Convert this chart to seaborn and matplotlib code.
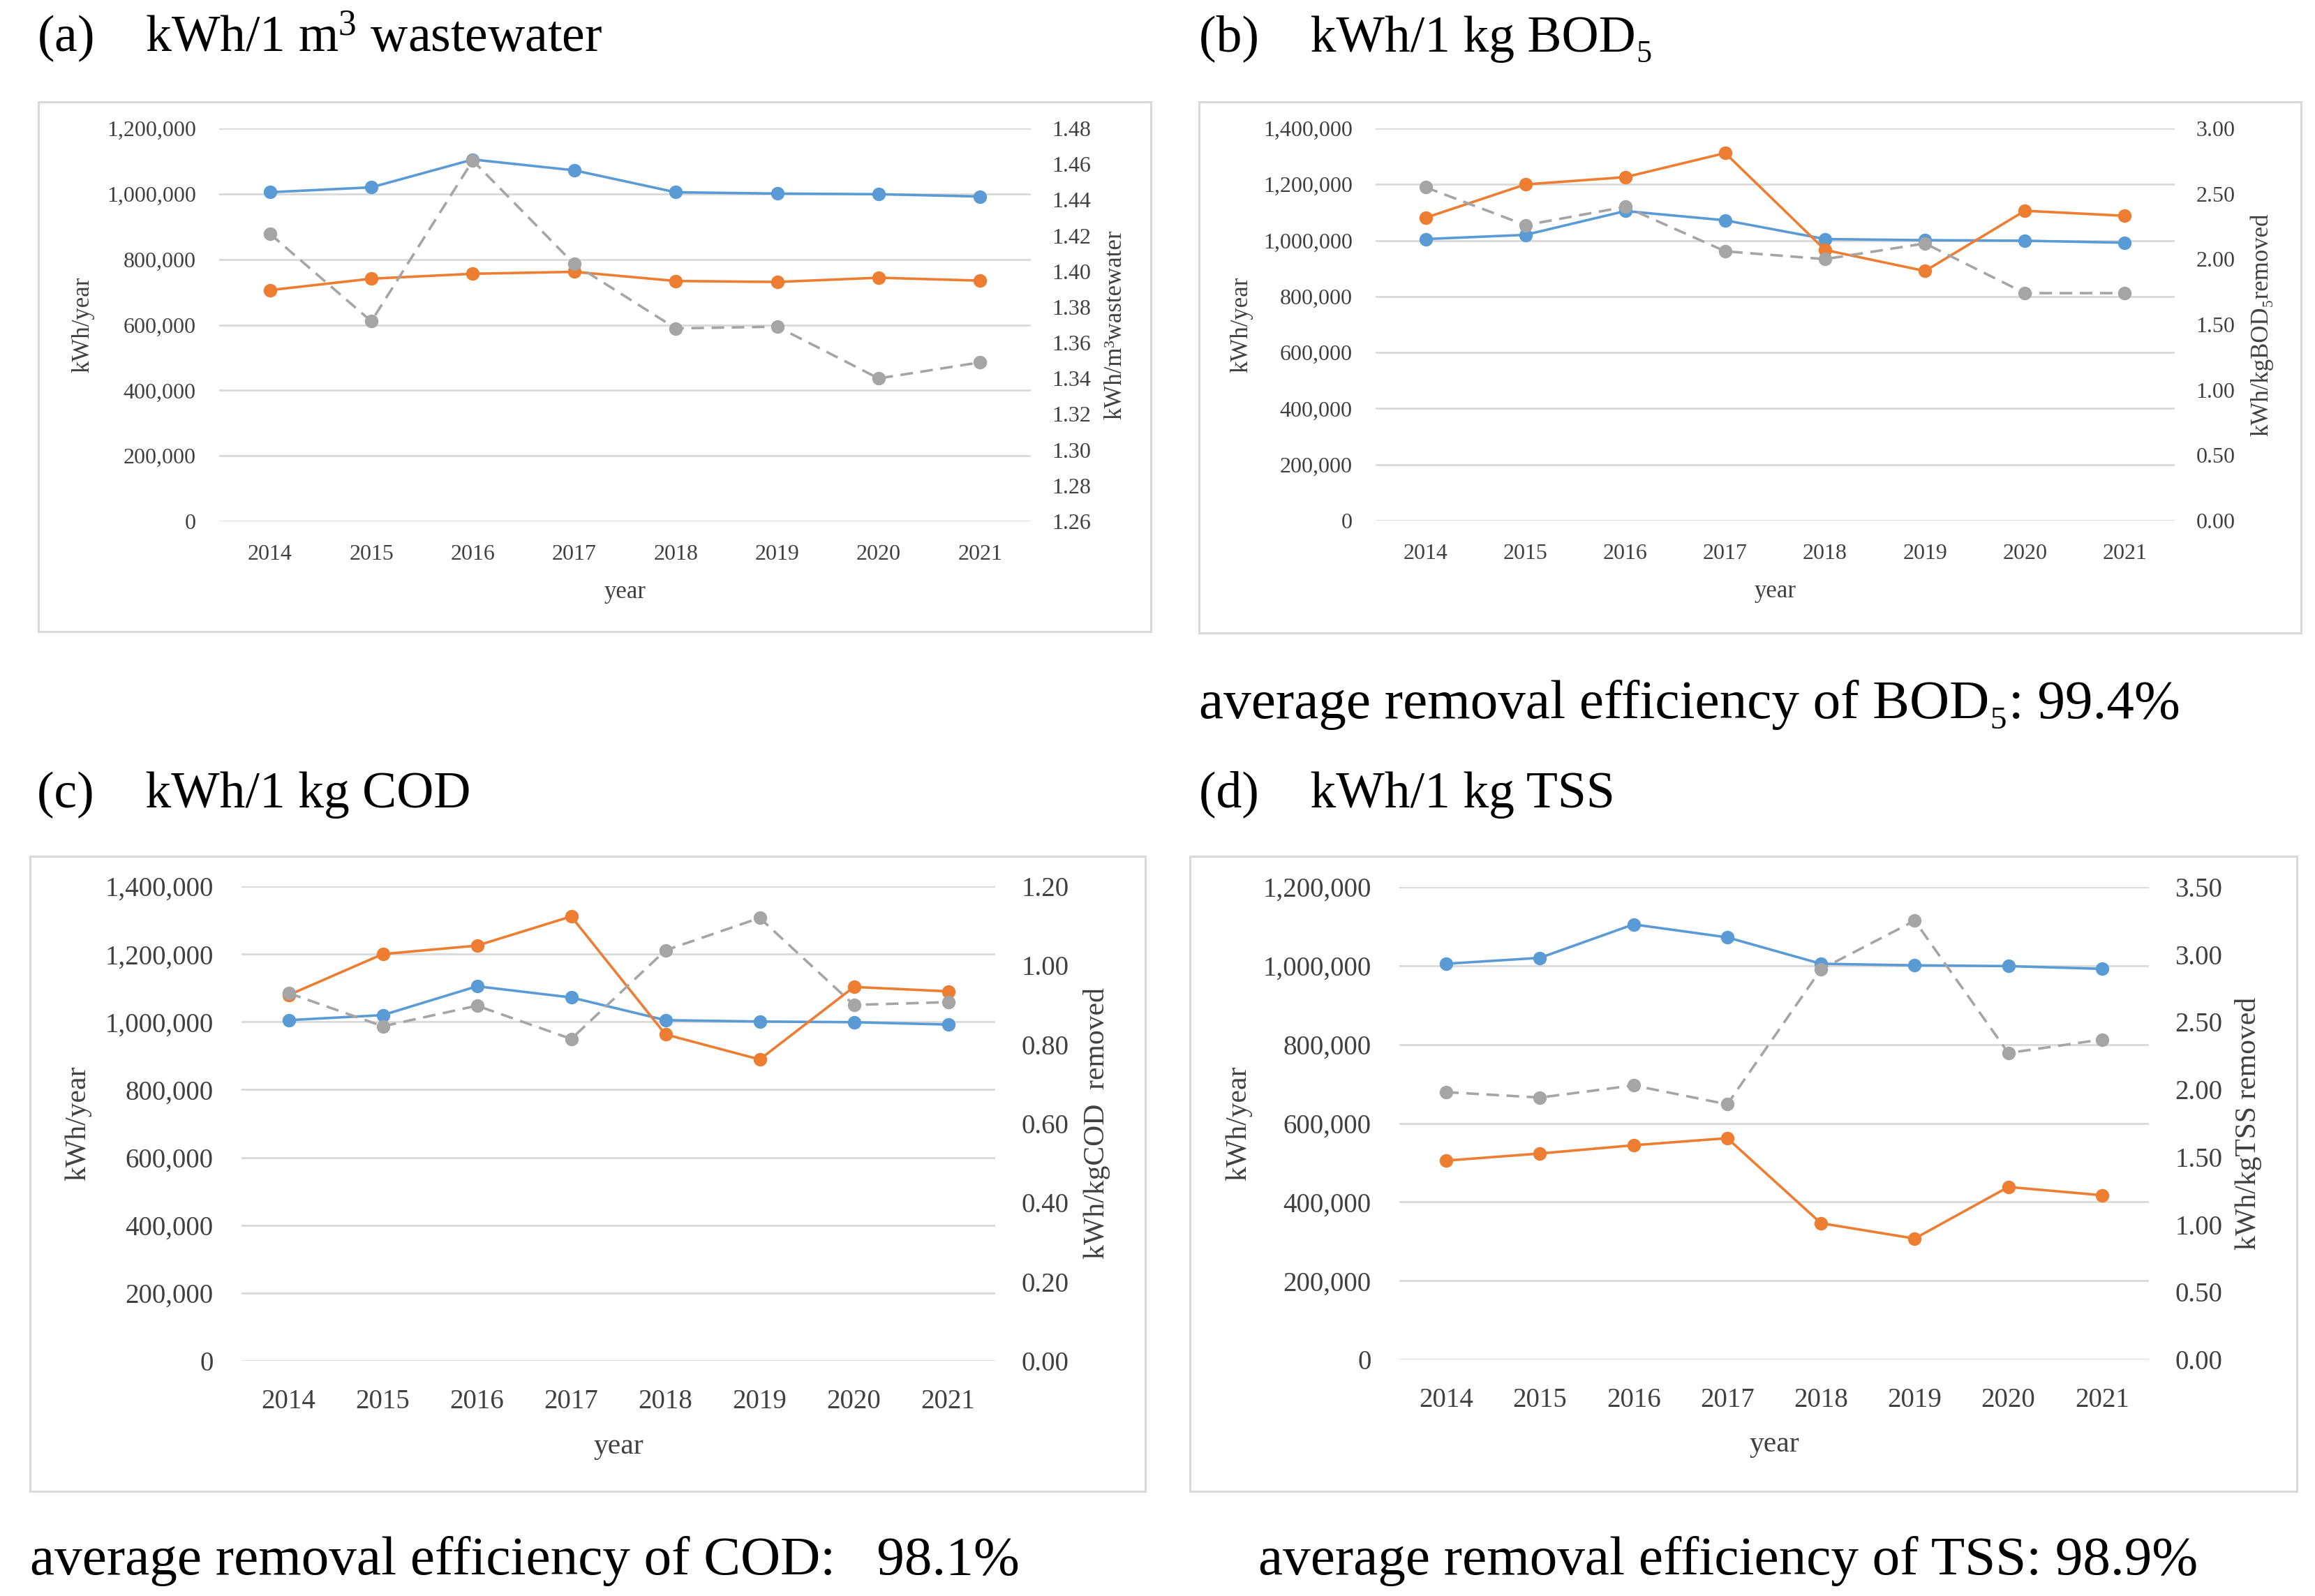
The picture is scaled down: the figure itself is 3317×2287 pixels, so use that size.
"""Energy use of a wastewater plant, 2014-2021, four twin-axis panels"""

import numpy as np
import matplotlib
matplotlib.use("Agg")
import matplotlib.pyplot as plt
from matplotlib.patches import Rectangle
from matplotlib.ticker import FuncFormatter
import seaborn as sns

sns.set_theme(style="white")
plt.rcParams["font.family"] = ["Liberation Serif", "DejaVu Serif"]
plt.rcParams["mathtext.fontset"] = "custom"
plt.rcParams["mathtext.rm"] = "Liberation Serif"
plt.rcParams["mathtext.it"] = "Liberation Serif:italic"

years = [2014, 2015, 2016, 2017, 2018, 2019, 2020, 2021]

# blue line, kWh/year (same in every panel)
energy = [1005000, 1020000, 1105000, 1072000, 1005000, 1001000, 999000, 992000]

# orange lines (left axis)
orange_a = [706000, 741000, 756000, 762000, 734000, 731000, 744000, 735000]
orange_b = [1081000, 1200000, 1226000, 1312000, 966000, 891000, 1106000, 1088000]
orange_c = [1079000, 1200000, 1225000, 1311000, 963000, 889000, 1103000, 1090000]
orange_d = [505000, 523000, 544000, 562000, 346000, 307000, 438000, 417000]

# grey dashed lines (right axis)
ratio_a = [1.421, 1.372, 1.462, 1.404, 1.368, 1.369, 1.340, 1.349]
ratio_b = [2.55, 2.26, 2.40, 2.06, 2.00, 2.12, 1.74, 1.74]
ratio_c = [0.930, 0.846, 0.898, 0.814, 1.038, 1.120, 0.900, 0.907]
ratio_d = [1.98, 1.94, 2.03, 1.89, 2.89, 3.25, 2.27, 2.37]

titles = ["(a)    kWh/1 m$^{3}$ wastewater", "(b)    kWh/1 kg BOD\u2085",
          "(c)    kWh/1 kg COD", "(d)    kWh/1 kg TSS"]
right_labels = ["kWh/m\u00b3wastewater", "kWh/kgBOD\u2085removed",
                "kWh/kgCOD  removed", "kWh/kgTSS removed"]
notes = [None, "average removal efficiency of BOD\u2085: 99.4%",
         "average removal efficiency of COD:   98.1%",
         "average removal efficiency of TSS: 98.9%"]

BLUE = "#5B9BD5"
ORANGE = "#ED7D31"
GREY = "#A5A5A5"
GRID = "#D9D9D9"
TICK = "#404040"

W, H = 3317, 2287
fig = plt.figure(figsize=(W / 100, H / 100), dpi=100)


def px_rect(x0, y0, x1, y1):
    # pixel box (top-left origin) -> figure fraction
    return [x0 / W, 1 - y1 / H, (x1 - x0) / W, (y1 - y0) / H]


panels = [
    dict(ax=(314, 184, 1477, 747), frame=(55, 146, 1649, 905), title=(53, 53),
         note=None, orange=orange_a, ratio=ratio_a,
         ylim=(0, 1200000), yticks=np.arange(0, 1200001, 200000),
         rlim=(1.26, 1.48), rticks=np.arange(1.26, 1.4801, 0.02),
         fs=23, lfs=25, pad=24, lab=(-0.168, 1.104)),
    dict(ax=(1971, 184, 3116, 746), frame=(1718, 146, 3297, 907), title=(1718, 56),
         note=(1718, 1010), orange=orange_b, ratio=ratio_b,
         ylim=(0, 1400000), yticks=np.arange(0, 1400001, 200000),
         rlim=(0, 3.0), rticks=np.arange(0, 3.001, 0.5),
         fs=23, lfs=25, pad=24, lab=(-0.168, 1.109)),
    dict(ax=(346, 1270, 1426, 1950), frame=(43, 1227, 1641, 2137), title=(53, 1139),
         note=(43, 2237), orange=orange_c, ratio=ratio_c,
         ylim=(0, 1400000), yticks=np.arange(0, 1400001, 200000),
         rlim=(0, 1.2), rticks=np.arange(0, 1.2001, 0.2),
         fs=28, lfs=30, pad=29, lab=(-0.217, 1.135)),
    dict(ax=(2005, 1271, 3079, 1948), frame=(1705, 1227, 3291, 2137), title=(1718, 1139),
         note=(1803, 2237), orange=orange_d, ratio=ratio_d,
         ylim=(0, 1200000), yticks=np.arange(0, 1200001, 200000),
         rlim=(0, 3.5), rticks=np.arange(0, 3.501, 0.5),
         fs=28, lfs=30, pad=29, lab=(-0.214, 1.133)),
]

for i, p in enumerate(panels):
    # light frame around each chart
    fx0, fy0, fx1, fy1 = p["frame"]
    fig.patches.append(Rectangle((fx0 / W, 1 - fy1 / H), (fx1 - fx0) / W, (fy1 - fy0) / H,
                                 transform=fig.transFigure, fill=False,
                                 edgecolor=GRID, linewidth=2.2, zorder=0))

    ax = fig.add_axes(px_rect(*p["ax"]))
    ax2 = ax.twinx()

    sns.lineplot(x=years, y=energy, ax=ax, color=BLUE, marker="o", markersize=14,
                 markeredgewidth=0, linewidth=2.6)
    sns.lineplot(x=years, y=p["orange"], ax=ax, color=ORANGE, marker="o", markersize=14,
                 markeredgewidth=0, linewidth=2.6)
    sns.lineplot(x=years, y=p["ratio"], ax=ax2, color=GREY, marker="o", markersize=14,
                 markeredgewidth=0, linewidth=2.6, linestyle=(0, (5, 3)))

    ax.set_xlim(2013.5, 2021.5)
    ax.set_xticks(years)
    ax.set_ylim(*p["ylim"])
    ax.set_yticks(p["yticks"])
    ax.yaxis.set_major_formatter(FuncFormatter(lambda v, _: f"{v:,.0f}"))
    ax2.set_ylim(*p["rlim"])
    ax2.set_yticks(p["rticks"])
    ax2.yaxis.set_major_formatter(FuncFormatter(lambda v, _: f"{v:.2f}"))

    ax.grid(axis="y", color=GRID, linewidth=2.0)
    ax.grid(axis="x", visible=False)
    ax2.grid(False)
    ax.set_axisbelow(True)
    for a in (ax, ax2):
        for s in a.spines.values():
            s.set_visible(False)
        a.set_facecolor("none")
    ax.tick_params(axis="both", length=0, labelsize=p["fs"], labelcolor=TICK, pad=p["pad"])
    ax2.tick_params(axis="y", length=0, labelsize=p["fs"], labelcolor=TICK, pad=p["pad"] - 2)

    ax.set_xlabel("year", fontsize=p["lfs"], color=TICK, va="center")
    ax.xaxis.set_label_coords(0.5, -0.18)
    ax.set_ylabel("kWh/year", fontsize=p["lfs"], color=TICK, va="center")
    ax.yaxis.set_label_coords(p["lab"][0], 0.5)
    ax2.set_ylabel(right_labels[i], fontsize=p["lfs"], color=TICK, va="center")
    ax2.yaxis.set_label_coords(p["lab"][1], 0.5)

    tx, ty = p["title"]
    fig.text(tx / W, 1 - ty / H, titles[i], fontsize=53, ha="left", va="center", color="black")
    if p["note"] is not None:
        nx, ny = p["note"]
        fig.text(nx / W, 1 - ny / H, notes[i], fontsize=57, ha="left", va="center", color="black")

fig.savefig("out.png", dpi=100, facecolor="white")
